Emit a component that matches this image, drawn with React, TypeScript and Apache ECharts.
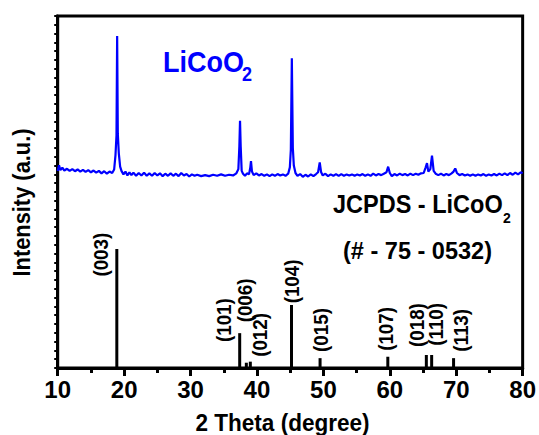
import { useEffect, useRef } from "react";
import * as echarts from "echarts";

// Measured XRD pattern (2θ, intensity in arbitrary units)
const twoTheta = [
  10.0, 10.2, 10.4, 10.7, 11.0, 11.4, 11.8, 12.2, 12.6, 13.0, 13.4, 13.8, 14.2, 14.6, 15.0, 15.4, 15.8, 16.2, 16.6, 17.0,
  17.4, 17.8, 18.2, 18.5, 18.7, 18.85, 18.95, 19.05, 19.2, 19.4, 19.6, 19.9, 20.2, 20.5, 20.8, 21.1, 21.4, 21.8, 22.2, 22.6,
  23.0, 23.4, 23.8, 24.2, 24.6, 25.0, 25.4, 25.8, 26.2, 26.6, 27.0, 27.4, 27.8, 28.2, 28.6, 29.0, 29.4, 29.8, 30.2, 30.6,
  31.0, 31.6, 32.2, 32.8, 33.4, 34.0, 34.6, 35.2, 35.8, 36.4, 36.9, 37.2, 37.35, 37.45, 37.55, 37.7, 37.9, 38.2, 38.5, 38.8,
  39.0, 39.1, 39.25, 39.5, 39.9, 40.3, 40.7, 41.1, 41.5, 41.9, 42.3, 42.7, 43.1, 43.5, 43.9, 44.3, 44.7, 44.95, 45.1, 45.25,
  45.4, 45.55, 45.8, 46.1, 46.5, 46.9, 47.3, 47.7, 48.1, 48.5, 48.9, 49.2, 49.45, 49.65, 49.9, 50.3, 50.7, 51.1, 51.5, 51.9,
  52.3, 52.7, 53.1, 53.5, 53.9, 54.3, 54.7, 55.1, 55.5, 55.9, 56.3, 56.7, 57.1, 57.5, 57.9, 58.3, 58.7, 59.1, 59.5, 59.75,
  60.0, 60.3, 60.7, 61.1, 61.5, 61.9, 62.3, 62.7, 63.1, 63.5, 63.9, 64.3, 64.7, 65.1, 65.4, 65.6, 65.8, 66.1, 66.35, 66.6,
  66.9, 67.3, 67.7, 68.1, 68.5, 68.9, 69.3, 69.6, 69.85, 70.1, 70.5, 70.9, 71.3, 71.7, 72.1, 72.5, 72.9, 73.3, 73.7, 74.1,
  74.5, 74.9, 75.3, 75.7, 76.1, 76.5, 76.9, 77.3, 77.7, 78.1, 78.5, 78.9, 79.3, 79.7, 80.0,
];
const intensity = [
  56.0, 57.6, 56.2, 56.9, 56.1, 56.6, 56.0, 56.5, 55.9, 56.4, 55.8, 56.3, 55.7, 56.2, 55.6, 56.1, 55.5, 56.0, 55.3, 55.9,
  55.2, 55.8, 55.4, 56.4, 60.5, 66.0, 94.3, 66.5, 61.0, 57.2, 56.0, 55.0, 55.8, 54.7, 55.6, 54.8, 55.5, 54.6, 55.4, 54.7,
  55.5, 54.6, 55.3, 54.6, 55.4, 54.7, 55.3, 54.5, 55.2, 54.6, 55.3, 54.6, 55.2, 54.5, 55.4, 54.7, 55.1, 54.4, 55.0, 54.6,
  54.9, 54.5, 54.8, 54.5, 54.9, 54.6, 55.0, 54.6, 54.9, 54.7, 55.3, 56.5, 63.0, 70.2, 63.0, 56.0, 55.2, 54.6, 55.3, 55.0,
  57.0, 58.8, 55.8, 54.8, 55.3, 54.7, 55.1, 54.6, 55.0, 54.5, 55.0, 54.6, 55.1, 54.7, 55.0, 54.6, 55.2, 57.0, 62.0, 88.0,
  62.5, 57.5, 55.4, 54.6, 55.1, 54.3, 54.9, 54.4, 55.0, 54.5, 55.1, 55.6, 58.4, 55.7, 54.7, 55.2, 54.5, 55.0, 54.6, 55.1,
  54.6, 55.1, 54.6, 55.0, 54.7, 55.0, 54.6, 55.0, 54.7, 55.1, 54.6, 55.0, 54.6, 55.2, 54.7, 55.1, 54.8, 55.2, 55.6, 57.2,
  55.4, 54.5, 55.1, 54.7, 55.2, 54.8, 55.1, 54.7, 55.2, 54.8, 55.2, 54.9, 55.3, 55.4, 57.0, 58.2, 55.8, 56.5, 60.3, 56.0,
  55.2, 54.8, 55.2, 54.7, 55.1, 54.8, 55.3, 55.8, 56.7, 55.4, 54.8, 55.1, 54.7, 55.0, 54.6, 55.0, 54.6, 55.0, 54.7, 55.1,
  54.6, 55.0, 54.7, 55.1, 54.7, 55.2, 54.8, 55.3, 54.8, 55.4, 54.9, 55.5, 55.0, 55.6, 55.3,
];

// JCPDS reference sticks (#75-0532)
const refTheta = [18.9, 37.4, 38.4, 39.0, 45.2, 49.5, 59.7, 65.5, 66.3, 69.6];
const refIntensity = [33.8, 9.9, 1.5, 1.8, 17.9, 2.8, 3.2, 3.7, 3.7, 2.8];
const refHkl = ["(003)", "(101)", "(006)", "(012)", "(104)", "(015)", "(107)", "(018)", "(110)", "(113)"];
// Anchor (data coords) of each hkl label
const labelTheta = [16.51, 34.99, 38.15, 40.4, 45.21, 49.56, 59.33, 64.07, 66.96, 70.76];
const labelLevel = [32.2, 13.6, 19.2, 9.4, 24.6, 10.8, 11.1, 12.2, 12.4, 10.7];

const xTicks = [10, 80, 10];

const FONT = '"Liberation Sans", Arial, Helvetica, sans-serif';

export default function App() {
  const ref = useRef<HTMLDivElement>(null);
  useEffect(() => {
    if (!ref.current) return;
    const chart = echarts.init(ref.current, undefined, { renderer: "svg" });
    const xrd = twoTheta.map((t, i) => [t, intensity[i]]);
    const sticks = refTheta.map((t, i) => [t, refIntensity[i], labelTheta[i], labelLevel[i]]);
    chart.setOption({
      animation: false,
      backgroundColor: "#fff",
      grid: {
        left: 57.7,
        right: 15.5,
        top: 16,
        bottom: 67,
        show: true,
        borderColor: "#000",
        borderWidth: 3,
        backgroundColor: "transparent",
      },
      xAxis: {
        type: "value",
        min: xTicks[0],
        max: xTicks[1],
        interval: xTicks[2],
        axisLine: { show: true, lineStyle: { color: "#000", width: 3 } },
        axisTick: { show: true, length: 8, inside: false, lineStyle: { color: "#000", width: 3 } },
        minorTick: { show: true, splitNumber: 2, length: 5, lineStyle: { color: "#000", width: 3 } },
        splitLine: { show: false },
        axisLabel: { color: "#000", fontSize: 24, fontWeight: "bold", fontFamily: FONT, margin: 9 },
      },
      yAxis: {
        type: "value",
        min: 0,
        max: 100,
        interval: 2.5,
        axisLine: { show: true, lineStyle: { color: "#000", width: 3 } },
        axisTick: { show: true, length: 3.5, inside: false, lineStyle: { color: "#000", width: 2 } },
        axisLabel: { show: false },
        splitLine: { show: false },
      },
      series: [
        {
          type: "line",
          data: xrd,
          showSymbol: false,
          symbol: "none",
          lineStyle: { color: "#0000ff", width: 2.2 },
          z: 3,
        },
        {
          type: "custom",
          data: sticks,
          encode: { x: 0, y: 1 },
          clip: false,
          z: 4,
          renderItem: (params: any, api: any) => {
            const x = api.value(0);
            const h = api.value(1);
            const p0 = api.coord([x, 0]);
            const p1 = api.coord([x, h]);
            const pl = api.coord([api.value(2), api.value(3)]);
            return {
              type: "group",
              children: [
                {
                  type: "line",
                  shape: { x1: p0[0], y1: p0[1], x2: p1[0], y2: p1[1] },
                  style: { stroke: "#000", lineWidth: 3 },
                },
                {
                  type: "text",
                  x: pl[0],
                  y: pl[1],
                  rotation: Math.PI / 2,
                  scaleX: 0.94,
                  style: {
                    text: refHkl[params.dataIndex],
                    fill: "#000",
                    font: `bold 20px ${FONT}`,
                    align: "center",
                    verticalAlign: "middle",
                  },
                },
              ],
            };
          },
        },
      ],
      graphic: [
        {
          type: "text",
          x: 163,
          y: 61,
          scaleX: 0.9,
          style: { text: "LiCoO", fill: "#0000ff", font: `bold 30px ${FONT}`, align: "left", verticalAlign: "middle" },
        },
        {
          type: "text",
          x: 242,
          y: 74,
          scaleX: 0.9,
          style: { text: "2", fill: "#0000ff", font: `bold 20px ${FONT}`, align: "left", verticalAlign: "middle" },
        },
        {
          type: "text",
          x: 333,
          y: 204,
          scaleX: 0.94,
          style: { text: "JCPDS - LiCoO", fill: "#000", font: `bold 25px ${FONT}`, align: "left", verticalAlign: "middle" },
        },
        {
          type: "text",
          x: 503,
          y: 218,
          style: { text: "2", fill: "#000", font: `bold 14px ${FONT}`, align: "left", verticalAlign: "middle" },
        },
        {
          type: "text",
          x: 417.5,
          y: 250,
          scaleX: 0.98,
          style: { text: "(# - 75 - 0532)", fill: "#000", font: `bold 24px ${FONT}`, align: "center", verticalAlign: "middle" },
        },
        {
          type: "text",
          x: 282.5,
          y: 423,
          scaleX: 0.94,
          style: { text: "2 Theta (degree)", fill: "#000", font: `bold 24px ${FONT}`, align: "center", verticalAlign: "middle" },
        },
        {
          type: "text",
          x: 22,
          y: 202.5,
          rotation: Math.PI / 2,
          scaleX: 0.95,
          style: { text: "Intensity (a.u.)", fill: "#000", font: `bold 23px ${FONT}`, align: "center", verticalAlign: "middle" },
        },
      ],
    });
    return () => chart.dispose();
  }, []);
  return <div ref={ref} style={{ position: "fixed", left: 0, top: 0, width: 539, height: 435 }} />;
}
